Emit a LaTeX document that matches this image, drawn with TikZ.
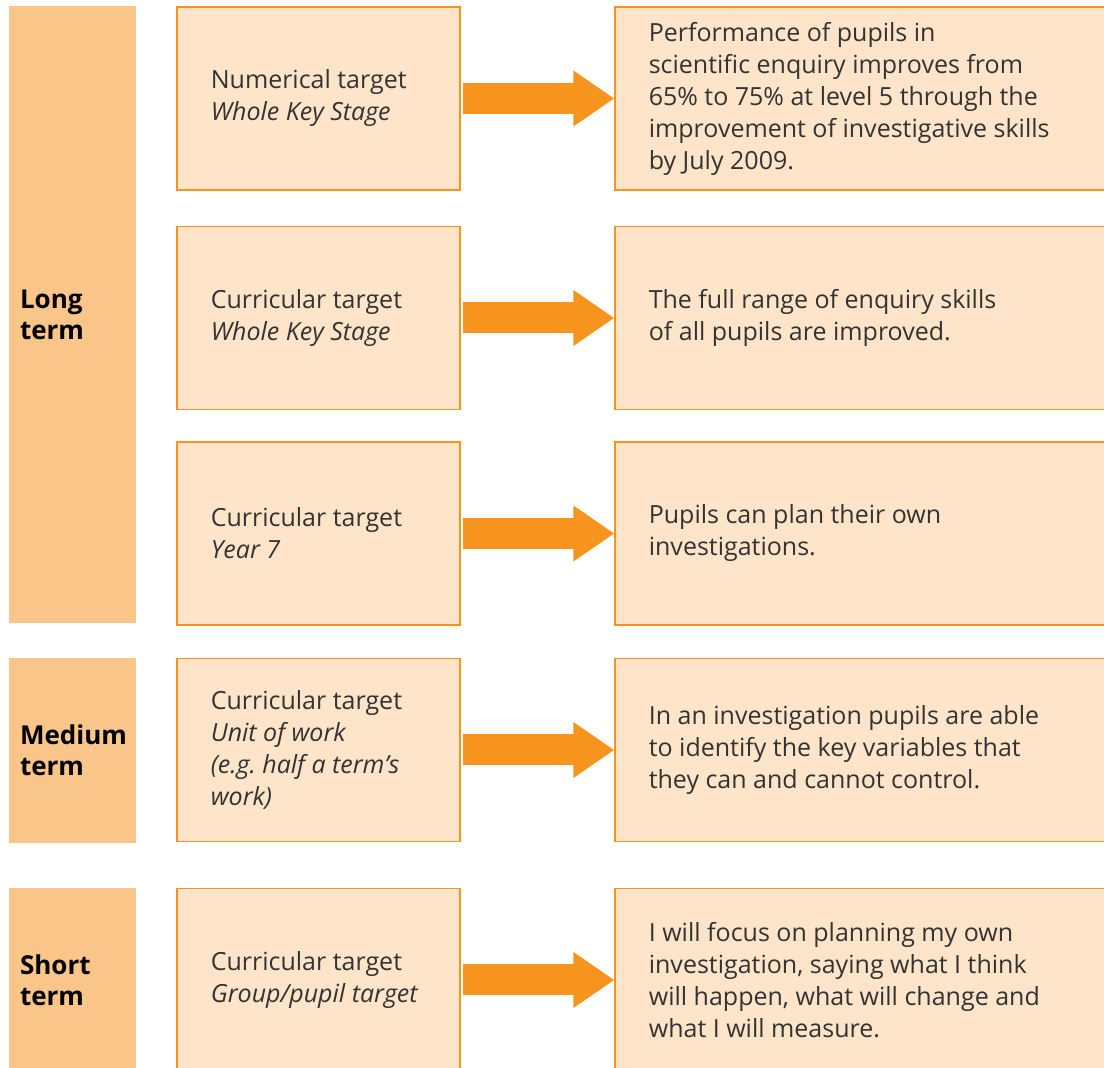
\documentclass[tikz,border=0pt]{standalone}
\usepackage{fontspec}
\setmainfont{Open Sans}
\usetikzlibrary{arrows.meta,positioning}

\definecolor{barfill}{HTML}{FAC589}
\definecolor{boxfill}{HTML}{FEE4C8}
\definecolor{boxline}{HTML}{F7941D}
\definecolor{arrowfill}{HTML}{F7941E}

\tikzset{
    termbar/.style={fill=barfill, draw=none, minimum width=63.5pt, inner sep=0pt},
    targetbox/.style={fill=boxfill, draw=boxline, line width=0.6pt,
        minimum width=141.5pt, minimum height=91.5pt, inner sep=0pt},
    goalbox/.style={targetbox, minimum width=260pt},
    termtext/.style={align=left, inner sep=0pt, text=black,
        font=\fontsize{13pt}{15.5pt}\selectfont\bfseries},
    boxtext/.style={align=left, inner sep=0pt, text=black!80,
        font=\fontsize{12.5pt}{16pt}\selectfont\frenchspacing},
    bigarrow/.style={draw=arrowfill, line width=15.5pt, shorten <=1pt,
        -{Triangle[width=26.5pt,length=20.5pt]}}
}

\begin{document}
\begin{tikzpicture}[x=0.5pt, y=-0.5pt]
    \pgfmathsetmacro\midx{318.5};
    \pgfmathsetmacro\goalx{875};
    \useasboundingbox (0,0) rectangle (1104,1068);
    \clip (0,0) rectangle (1104,1068);

    % term bars
    \node[termbar, minimum height=308.5pt] (longbar) at (72.5, 314.5) {};
    \node[termbar, minimum height=92.5pt] (mediumbar) at (72.5, 750.5) {};
    \node[termbar, minimum height=92pt] (shortbar) at (72.5, 980) {};
    \node[termtext, right=5.5pt of longbar.west] (longtext) {Long\\term};
    \node[termtext, right=5.5pt of mediumbar.west] (mediumtext) {Medium\\term};
    \node[termtext, right=5.5pt of shortbar.west] (shorttext) {Short\\term};

    % targets
    \node[targetbox] (numtarget) at (\midx, 98.5) {};
    \node[targetbox] (stagetarget) at (\midx, 318) {};
    \node[targetbox] (yeartarget) at (\midx, 533.5) {};
    \node[targetbox] (unittarget) at (\midx, 750) {};
    \node[targetbox] (pupiltarget) at (\midx, 980) {};
    \node[boxtext, right=17pt of numtarget.west] (numtext)
        {Numerical target\\\textit{Whole Key Stage}};
    \node[boxtext, right=17pt of stagetarget.west] (stagetext)
        {Curricular target\\\textit{Whole Key Stage}};
    \node[boxtext, right=17pt of yeartarget.west] (yeartext)
        {Curricular target\\\textit{Year 7}};
    \node[boxtext, right=17pt of unittarget.west] (unittext)
        {Curricular target\\\textit{Unit of work}\\\textit{(e.g. half a term’s}\\\textit{work)}};
    \node[boxtext, right=17pt of pupiltarget.west] (pupiltext)
        {Curricular target\\\textit{Group/pupil target}};

    % goals
    \node[goalbox] (numgoal) at (\goalx, 98.5) {};
    \node[goalbox] (stagegoal) at (\goalx, 318) {};
    \node[goalbox] (yeargoal) at (\goalx, 533.5) {};
    \node[goalbox] (unitgoal) at (\goalx, 750) {};
    \node[goalbox] (pupilgoal) at (\goalx, 980) {};
    \node[boxtext, right=17pt of numgoal.west] (numgoaltext)
        {Performance of pupils in\\scientific enquiry improves from\\65\% to 75\% at level 5 through the\\improvement of investigative skills\\by July 2009.};
    \node[boxtext, right=17pt of stagegoal.west] (stagegoaltext)
        {The full range of enquiry skills\\of all pupils are improved.};
    \node[boxtext, right=17pt of yeargoal.west] (yeargoaltext)
        {Pupils can plan their own\\investigations.};
    \node[boxtext, right=17pt of unitgoal.west] (unitgoaltext)
        {In an investigation pupils are able\\to identify the key variables that\\they can and cannot control.};
    \node[boxtext, right=17pt of pupilgoal.west] (pupilgoaltext)
        {I will focus on planning my own\\investigation, saying what I think\\will happen, what will change and\\what I will measure.};

    % arrows
    \foreach \from/\to in {numtarget/numgoal, stagetarget/stagegoal,
        yeartarget/yeargoal, unittarget/unitgoal, pupiltarget/pupilgoal}
        \draw[bigarrow] (\from.east) -- (\to.west);
\end{tikzpicture}
\end{document}
